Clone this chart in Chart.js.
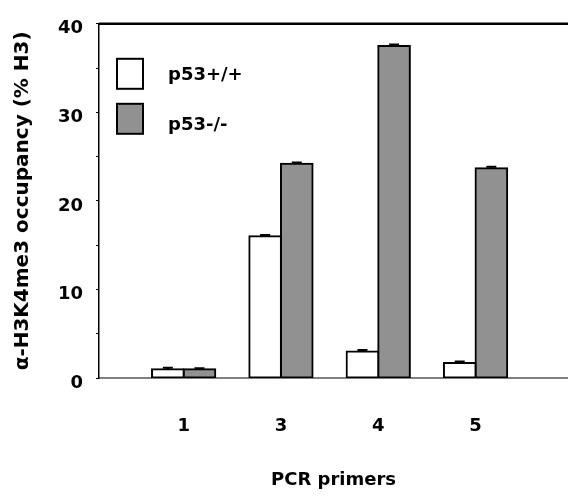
<!DOCTYPE html>
<html>
<head>
<meta charset="utf-8">
<script src="https://cdn.jsdelivr.net/npm/chart.js@4"></script>
<style>
  html, body { margin: 0; padding: 0; background: #fff; }
  #wrap { width: 568px; height: 497px; }
</style>
</head>
<body>
<div id="wrap"><canvas id="occupancyChart" width="568" height="497"></canvas></div>
<script>
// PCR primer categories and occupancy values (% H3)
const primers = ['1', '3', '4', '5'];
const wildType = [1.0, 16.0, 3.0, 1.7];
const wildTypeErr = [0.15, 0.15, 0.15, 0.15];
const knockout = [1.0, 24.2, 37.5, 23.7];
const knockoutErr = [0.1, 0.15, 0.15, 0.15];
const seriesNames = ['p53+/+', 'p53-/-'];
const yTickLabels = [0, 10, 20, 30, 40];

const FONT = '"DejaVu Sans", sans-serif';

// error caps on top of each bar
const errorBars = {
    id: 'errorBars',
    afterDatasetsDraw(chart) {
        const ctx = chart.ctx;
        const yScale = chart.scales.y;
        ctx.save();
        ctx.strokeStyle = '#000';
        ctx.lineWidth = 2;
        chart.data.datasets.forEach((ds, di) => {
            const meta = chart.getDatasetMeta(di);
            meta.data.forEach((bar, i) => {
                const v = ds.data[i].y;
                const top = yScale.getPixelForValue(v + ds.errors[i]);
                ctx.beginPath();
                ctx.moveTo(bar.x, bar.y);
                ctx.lineTo(bar.x, top);
                ctx.moveTo(bar.x - 5, top);
                ctx.lineTo(bar.x + 5, top);
                ctx.stroke();
            });
        });
        ctx.restore();
    }
};

// top frame line + legend inside plot area
const frameAndLegend = {
    id: 'frameAndLegend',
    afterDraw(chart) {
        const ctx = chart.ctx;
        const area = chart.chartArea;
        ctx.save();
        ctx.strokeStyle = '#000';
        ctx.lineWidth = 2.5;
        ctx.beginPath();
        ctx.moveTo(area.left, area.top);
        ctx.lineTo(chart.width, area.top);
        ctx.stroke();

        ctx.font = 'bold 18px ' + FONT;
        ctx.textBaseline = 'middle';
        chart.data.datasets.forEach((ds, i) => {
            const bx = area.left + 18;
            const by = area.top + 35 + i * 45;
            ctx.fillStyle = ds.backgroundColor;
            ctx.fillRect(bx, by, 26, 30);
            ctx.lineWidth = 2;
            ctx.strokeStyle = '#000';
            ctx.strokeRect(bx, by, 26, 30);
            ctx.fillStyle = '#000';
            ctx.fillText(ds.label, bx + 51, by + 17 + i * 5);
        });
        ctx.restore();
    }
};

const ctx = document.getElementById('occupancyChart').getContext('2d');
new Chart(ctx, {
    type: 'bar',
    data: {
        datasets: [{
            label: seriesNames[0],
            data: wildType.map((v, i) => ({ x: i + 1, y: v })),
            errors: wildTypeErr,
            backgroundColor: '#ffffff',
            borderColor: '#000000',
            borderWidth: 2,
            borderSkipped: false,
            inflateAmount: 1
        }, {
            label: seriesNames[1],
            data: knockout.map((v, i) => ({ x: i + 1, y: v })),
            errors: knockoutErr,
            backgroundColor: '#919191',
            borderColor: '#000000',
            borderWidth: 2,
            borderSkipped: false,
            inflateAmount: 1
        }]
    },
    options: {
        responsive: false,
        animation: false,
        layout: { padding: { top: 20, right: 0, bottom: 0, left: 0 } },
        categoryPercentage: 0.65,
        barPercentage: 1.0,
        plugins: {
            legend: { display: false },
            tooltip: { enabled: false }
        },
        scales: {
            x: {
                type: 'linear',
                offset: false,
                min: 0.13,
                max: 4.95,
                afterBuildTicks: scale => {
                    scale.ticks = primers.map((p, i) => ({ value: i + 1 }));
                },
                afterFit: scale => { scale.height = 119; },
                grid: { display: false },
                border: { display: true, color: '#808080', width: 2 },
                ticks: {
                    callback: v => primers[v - 1],
                    color: '#000',
                    padding: 30,
                    maxRotation: 0,
                    font: { family: FONT, size: 18, weight: 'bold' }
                },
                title: {
                    display: true,
                    text: 'PCR primers',
                    color: '#000',
                    padding: { top: 0, bottom: 6 },
                    font: { family: FONT, size: 18, weight: 'bold' }
                }
            },
            y: {
                min: 0,
                max: 40,
                afterFit: scale => { scale.width = 99; },
                afterBuildTicks: scale => {
                    const ticks = [];
                    for (let v = 0; v <= 40; v += 5) ticks.push({ value: v });
                    scale.ticks = ticks;
                },
                grid: {
                    drawOnChartArea: false,
                    drawTicks: true,
                    tickLength: 3,
                    color: '#000'
                },
                border: { display: true, color: '#000', width: 1.5 },
                ticks: {
                    callback: v => yTickLabels.includes(v) ? String(v) : '',
                    color: '#000',
                    padding: 13,
                    labelOffset: 5,
                    font: { family: FONT, size: 18, weight: 'bold' }
                },
                title: {
                    display: true,
                    text: 'α-H3K4me3 occupancy (% H3)',
                    color: '#000',
                    padding: { top: 11, bottom: 0 },
                    font: { family: FONT, size: 20, weight: 'bold' }
                }
            }
        }
    },
    plugins: [errorBars, frameAndLegend]
});
</script>
</body>
</html>
